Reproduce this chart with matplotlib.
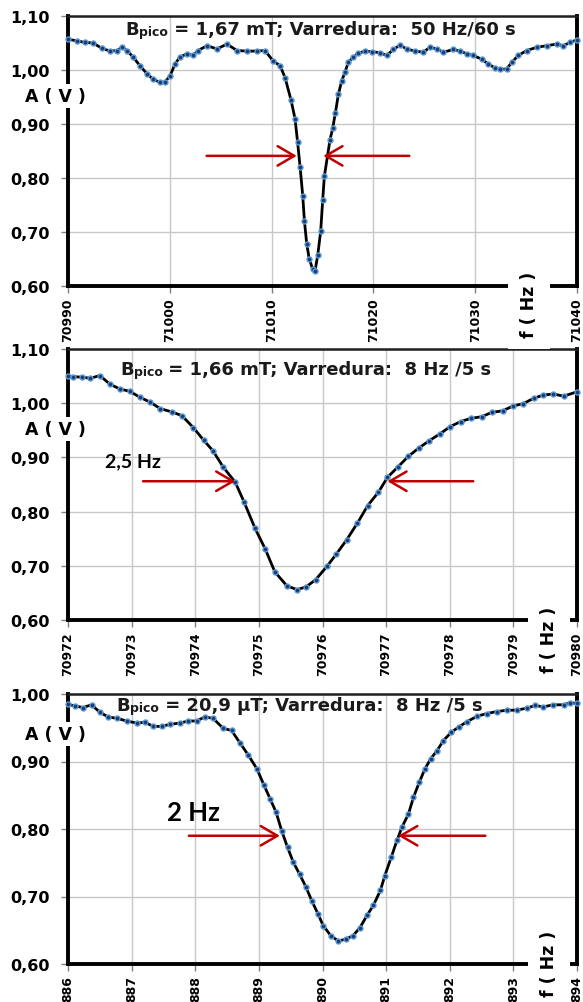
import matplotlib
matplotlib.use("Agg")
import matplotlib.pyplot as plt

# ---------------- data ----------------
top_f = [70990.00, 70990.85, 70991.67, 70992.46, 70993.34, 70994.13, 70994.81, 70995.30, 70995.80,
         70996.39, 70997.07, 70997.76, 70998.35, 70999.04, 70999.53, 71000.02, 71000.51, 71001.00,
         71001.69, 71002.28, 71002.77, 71003.65, 71004.64, 71005.62, 71006.60, 71007.58, 71008.57,
         71009.35, 71010.14, 71010.83, 71011.32, 71011.90, 71012.30, 71012.55, 71012.80, 71013.06,
         71013.22, 71013.45, 71013.70, 71014.04, 71014.26, 71014.53, 71014.82, 71015.02, 71015.18,
         71015.74, 71016.00, 71016.26, 71016.56, 71016.89, 71017.21, 71017.53, 71018.03, 71018.52,
         71019.17, 71019.83, 71020.65, 71021.31, 71021.96, 71022.61, 71023.27, 71024.09, 71024.90,
         71025.56, 71026.22, 71026.87, 71027.85, 71028.51, 71029.17, 71029.81, 71030.64, 71031.29,
         71031.94, 71032.44, 71033.09, 71033.59, 71034.23, 71035.06, 71036.04, 71037.02, 71038.00,
         71038.65, 71039.31, 71040.00]
top_a = [1.057, 1.054, 1.051, 1.050, 1.040, 1.035, 1.036, 1.042, 1.036,
         1.024, 1.008, 0.993, 0.983, 0.977, 0.978, 0.989, 1.011, 1.024,
         1.030, 1.027, 1.036, 1.045, 1.039, 1.048, 1.036, 1.035, 1.035,
         1.036, 1.017, 1.008, 0.986, 0.945, 0.910, 0.867, 0.820, 0.767,
         0.721, 0.678, 0.650, 0.631, 0.627, 0.657, 0.701, 0.759, 0.803,
         0.871, 0.892, 0.920, 0.955, 0.980, 0.996, 1.014, 1.024, 1.031,
         1.035, 1.034, 1.032, 1.027, 1.038, 1.046, 1.039, 1.035, 1.033,
         1.042, 1.039, 1.033, 1.038, 1.035, 1.030, 1.027, 1.020, 1.011,
         1.004, 1.001, 1.002, 1.014, 1.027, 1.036, 1.042, 1.045, 1.048,
         1.045, 1.051, 1.056]

mid_f = [70972.00, 70972.08, 70972.22, 70972.35, 70972.50, 70972.66, 70972.82, 70972.97, 70973.13,
         70973.29, 70973.45, 70973.63, 70973.79, 70973.97, 70974.13, 70974.28, 70974.44, 70974.63,
         70974.77, 70974.94, 70975.10, 70975.25, 70975.44, 70975.60, 70975.74, 70975.89, 70976.07,
         70976.22, 70976.38, 70976.55, 70976.71, 70976.88, 70977.02, 70977.19, 70977.35, 70977.51,
         70977.68, 70977.84, 70978.01, 70978.17, 70978.33, 70978.50, 70978.66, 70978.83, 70979.00,
         70979.15, 70979.32, 70979.47, 70979.63, 70979.79, 70980.00]
mid_a = [1.050, 1.049, 1.048, 1.046, 1.051, 1.035, 1.026, 1.022, 1.011,
         1.002, 0.990, 0.984, 0.977, 0.955, 0.932, 0.912, 0.882, 0.854,
         0.817, 0.769, 0.731, 0.689, 0.663, 0.656, 0.661, 0.674, 0.699,
         0.722, 0.748, 0.779, 0.811, 0.836, 0.863, 0.883, 0.902, 0.917,
         0.931, 0.943, 0.957, 0.966, 0.972, 0.975, 0.983, 0.986, 0.995,
         0.999, 1.009, 1.015, 1.017, 1.013, 1.021]

bot_f = [886.00, 886.11, 886.24, 886.37, 886.50, 886.63, 886.77, 886.92, 887.08, 887.21,
         887.34, 887.47, 887.60, 887.76, 887.89, 888.02, 888.15, 888.28, 888.44, 888.57,
         888.70, 888.83, 888.97, 889.08, 889.18, 889.27, 889.36, 889.45, 889.54, 889.64,
         889.74, 889.83, 889.93, 890.01, 890.13, 890.25, 890.37, 890.48, 890.59, 890.70,
         890.80, 890.91, 890.98, 891.08, 891.17, 891.25, 891.35, 891.43, 891.52, 891.61,
         891.70, 891.80, 891.90, 892.02, 892.14, 892.27, 892.43, 892.58, 892.74, 892.90,
         893.05, 893.21, 893.34, 893.47, 893.63, 893.79, 893.89, 894.00]
bot_a = [0.985, 0.982, 0.980, 0.984, 0.973, 0.966, 0.964, 0.960, 0.957, 0.958,
         0.952, 0.952, 0.955, 0.957, 0.960, 0.960, 0.966, 0.964, 0.949, 0.946,
         0.928, 0.910, 0.889, 0.865, 0.844, 0.825, 0.797, 0.773, 0.751, 0.733,
         0.714, 0.694, 0.674, 0.657, 0.642, 0.634, 0.637, 0.642, 0.654, 0.672,
         0.687, 0.709, 0.731, 0.758, 0.783, 0.803, 0.822, 0.847, 0.869, 0.889,
         0.904, 0.916, 0.931, 0.943, 0.951, 0.959, 0.967, 0.971, 0.974, 0.976,
         0.976, 0.979, 0.983, 0.981, 0.984, 0.984, 0.987, 0.986]

top_xticks = [70990, 71000, 71010, 71020, 71030, 71040]
mid_xticks = [70972, 70973, 70974, 70975, 70976, 70977, 70978, 70979, 70980]
bot_xticks = [886, 887, 888, 889, 890, 891, 892, 893, 894]

top_yticks = [0.60, 0.70, 0.80, 0.90, 1.00, 1.10]
mid_yticks = [0.60, 0.70, 0.80, 0.90, 1.00, 1.10]
bot_yticks = [0.60, 0.70, 0.80, 0.90, 1.00]

titles = [("1,67 mT", "50 Hz/60 s"), ("1,66 mT", "8 Hz /5 s"), ("20,9 \u00b5T", "8 Hz /5 s")]

# arrows: (y, left tail, left tip, right tip, right tail)
top_arrow = (0.841, 71003.62, 71012.47, 71015.08, 71023.53)
mid_arrow = (0.856, 70973.18, 70974.63, 70977.02, 70978.37)
bot_arrow = (0.790, 887.90, 889.33, 891.19, 892.56)
mid_width_label = ("2,5 Hz", 70972.58, 0.893)
bot_width_label = ("2 Hz", 887.56, 0.825)

# ---------------- figure ----------------
W, H = 583, 1003
fig = plt.figure(figsize=(W / 100, H / 100), dpi=100)
fig.patch.set_facecolor("white")


def px_rect(left, top, right, bottom):
    return [left / W, 1 - bottom / H, (right - left) / W, (bottom - top) / H]


def fmt(v):
    return f"{v:.2f}".replace(".", ",")


def style(ax, xticks, yticks):
    ax.set_xlim(xticks[0], xticks[-1])
    ax.set_ylim(yticks[0], yticks[-1])
    ax.set_xticks(xticks)
    ax.set_xticklabels([str(v) for v in xticks], rotation=90, fontsize=9, fontweight="bold")
    ax.set_yticks(yticks)
    ax.set_yticklabels([fmt(v) for v in yticks], fontsize=11.5, fontweight="bold")
    ax.grid(True, color="#c8c8c8", lw=1.0)
    ax.set_axisbelow(True)
    for s in ["left", "bottom", "right"]:
        ax.spines[s].set_linewidth(2.8)
        ax.spines[s].set_color("black")
    ax.spines["top"].set_linewidth(1.8)
    ax.spines["top"].set_color("#202020")
    ax.tick_params(axis="both", length=5, width=1, color="#808080")
    ax.tick_params(axis="y", pad=8)
    ax.tick_params(axis="x", pad=3)


def plot_series(ax, f, a):
    ax.plot(f, a, color="black", lw=2.0, marker="o", ms=3.6,
            mfc="#1f3a70", mec="#5b9bd5", mew=1.0, zorder=3, clip_on=False)


def title(ax, x0, yb, bval, sweep):
    t1 = ax.text(x0, yb, "B", transform=ax.transAxes, fontsize=13,
                 fontweight="bold", ha="left", va="baseline", color="#1a1a1a")
    t2 = ax.annotate("pico", xy=(1, 0), xycoords=t1, fontsize=9,
                     fontweight="bold", ha="left", va="bottom", color="#1a1a1a")
    ax.annotate(f" = {bval}; Varredura:  {sweep}", xy=(1, 0), xycoords=t2,
                fontsize=13, fontweight="bold", ha="left", va="bottom", color="#1a1a1a")


def arrows(ax, arr):
    y, l0, l1, r1, r0 = arr
    props = dict(arrowstyle="->,head_length=0.6,head_width=0.35", color="#c00000",
                 lw=1.8, mutation_scale=20, shrinkA=0, shrinkB=0)
    ax.annotate("", xy=(l1, y), xytext=(l0, y), arrowprops=props, zorder=4)
    ax.annotate("", xy=(r1, y), xytext=(r0, y), arrowprops=props, zorder=4)


def side_labels(ycenter_A, fx, fy):
    fig.text(55 / W, 1 - ycenter_A / H, "A ( V )", ha="center", va="center",
             fontsize=12.5, fontweight="bold", zorder=10,
             bbox=dict(boxstyle="square,pad=0.15", fc="white", ec="none"))
    fig.text(fx / W, 1 - fy / H, "f ( Hz )", ha="center", va="center", rotation=90,
             fontsize=12.5, fontweight="bold", zorder=10,
             bbox=dict(boxstyle="square,pad=0.7", fc="white", ec="none"))


# top panel
ax1 = fig.add_axes(px_rect(68, 17, 577, 287))
plot_series(ax1, top_f, top_a)
style(ax1, top_xticks, top_yticks)
title(ax1, 0.112, 0.933, *titles[0])
arrows(ax1, top_arrow)
side_labels(97, 529, 305)

# middle panel
ax2 = fig.add_axes(px_rect(68, 350, 577, 621))
plot_series(ax2, mid_f, mid_a)
style(ax2, mid_xticks, mid_yticks)
title(ax2, 0.102, 0.908, *titles[1])
arrows(ax2, mid_arrow)
ax2.text(mid_width_label[1], mid_width_label[2], mid_width_label[0], fontsize=14,
         fontweight="bold", family=["Lato", "DejaVu Sans"], ha="left", va="center")
side_labels(430, 549, 640)

# bottom panel
ax3 = fig.add_axes(px_rect(68, 695, 577, 965))
plot_series(ax3, bot_f, bot_a)
style(ax3, bot_xticks, bot_yticks)
title(ax3, 0.096, 0.941, *titles[2])
arrows(ax3, bot_arrow)
ax3.text(bot_width_label[1], bot_width_label[2], bot_width_label[0], fontsize=18.5,
         fontweight="bold", family=["Lato", "DejaVu Sans"], ha="left", va="center")
side_labels(735, 549, 964)

fig.savefig("out.png", dpi=100)
